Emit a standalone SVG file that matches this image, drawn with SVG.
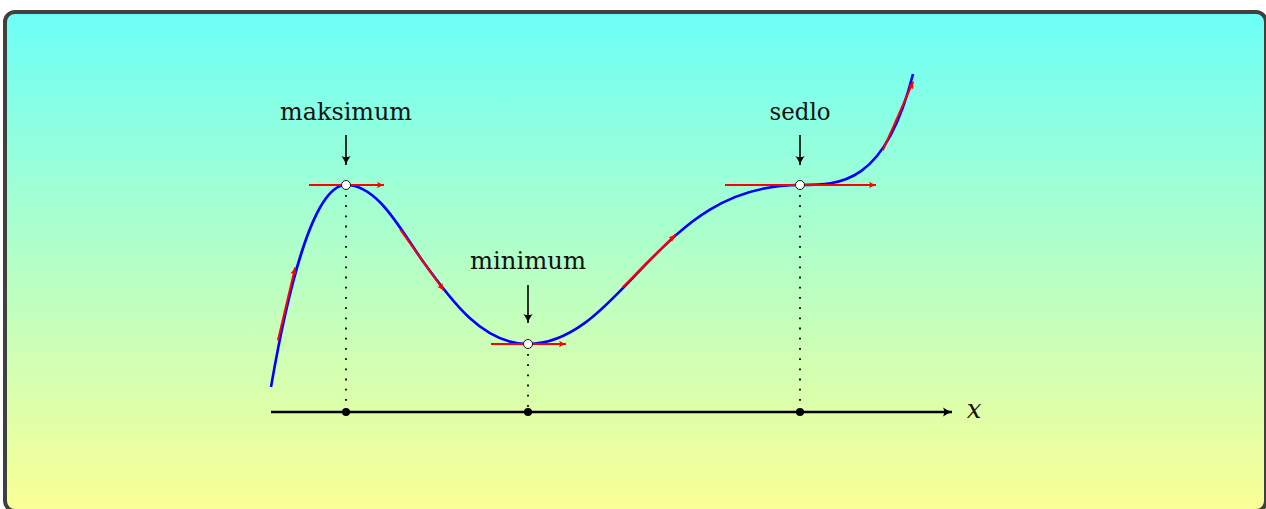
<svg xmlns="http://www.w3.org/2000/svg" width="1266" height="509" viewBox="0 0 1266 509">
<defs>
<linearGradient id="bg" gradientUnits="userSpaceOnUse" x1="0" y1="12" x2="0" y2="509">
<stop offset="0" stop-color="#6cfff8"/>
<stop offset="1" stop-color="#fbff96"/>
</linearGradient>
<marker id="ah" markerUnits="userSpaceOnUse" markerWidth="14" markerHeight="12" refX="0" refY="0" viewBox="-11 -6 14 12" orient="auto">
<path d="M-9,-4.5 Q-4,-1 0,0 Q-4,1 -9,4.5 Q-6.5,0 -9,-4.5 Z" fill="#000"/>
</marker>
<marker id="rh" markerUnits="userSpaceOnUse" markerWidth="10" markerHeight="8" refX="0" refY="0" viewBox="-8 -4 10 8" orient="auto">
<path d="M-7,-3.2 Q-3,-0.8 0,0 Q-3,0.8 -7,3.2 Q-5,0 -7,-3.2 Z" fill="#ff0000"/>
</marker>
</defs>
<style>
.lbl{font-family:"DejaVu Serif","Liberation Serif",serif;font-size:24px;fill:#111;text-anchor:middle}
.curve{fill:none;stroke:#0000ff;stroke-width:2.6}
.tan{fill:none;stroke:#ff0000;stroke-width:2;marker-end:url(#rh)}
.dots{stroke:#000;stroke-width:1.8;stroke-dasharray:1.8 8.4}
.pin{stroke:#000;stroke-width:1.6;marker-end:url(#ah)}
.open{fill:#fff;stroke:#000;stroke-width:0.9}
</style>
<rect x="5" y="12" width="1261" height="499" rx="10" fill="url(#bg)" stroke="#404040" stroke-width="4"/>
<g id="connectors">
<line class="dots" x1="346" y1="195" x2="346" y2="412"/>
<line class="dots" x1="528" y1="354" x2="528" y2="412"/>
<line class="dots" x1="800" y1="195" x2="800" y2="412"/>
<line x1="271" y1="412" x2="952" y2="412" stroke="#000" stroke-width="2.4" marker-end="url(#ah)"/>
<path class="curve" d="M271,387 C286,300 312,185 346,185 C378,185 400,229 422,260 C452,302 483,344 528,344 C578,344 614,296 649,261 C684,226 725,185 800,185 C840,185 885,185 913,74"/>
<line class="pin" x1="346" y1="135" x2="346" y2="165"/>
<line class="pin" x1="528" y1="285" x2="528" y2="323"/>
<line class="pin" x1="800" y1="135" x2="800" y2="165"/>
<line class="tan" x1="277.9" y1="340.5" x2="295.1" y2="267.5"/>
<line class="tan" x1="309" y1="185" x2="384" y2="185"/>
<line class="tan" x1="400.2" y1="229.5" x2="443.8" y2="290.5"/>
<line class="tan" x1="491" y1="344" x2="566" y2="344"/>
<line class="tan" x1="622.5" y1="287.5" x2="675.5" y2="234.5"/>
<line class="tan" x1="725" y1="185" x2="876" y2="185"/>
<line class="tan" x1="882.8" y1="150.3" x2="913.2" y2="81.7"/>
</g>
<g id="axis-points">
<circle cx="346" cy="412" r="4"/>
<circle cx="528" cy="412" r="4"/>
<circle cx="800" cy="412" r="4"/>
</g>
<g id="maksimum">
<circle class="open" cx="346" cy="185" r="4.5"/>
<text class="lbl" x="346" y="120" textLength="132" lengthAdjust="spacingAndGlyphs">maksimum</text>
</g>
<g id="minimum">
<circle class="open" cx="528" cy="344" r="4.5"/>
<text class="lbl" x="528" y="269" textLength="116" lengthAdjust="spacingAndGlyphs">minimum</text>
</g>
<g id="sedlo">
<circle class="open" cx="800" cy="185" r="4.5"/>
<text class="lbl" x="800" y="120" textLength="61" lengthAdjust="spacingAndGlyphs">sedlo</text>
</g>
<g id="x-label">
<text x="974" y="418" font-family="'DejaVu Serif', 'Liberation Serif', serif" font-style="italic" font-size="26" fill="#111" text-anchor="middle">x</text>
</g>
</svg>
